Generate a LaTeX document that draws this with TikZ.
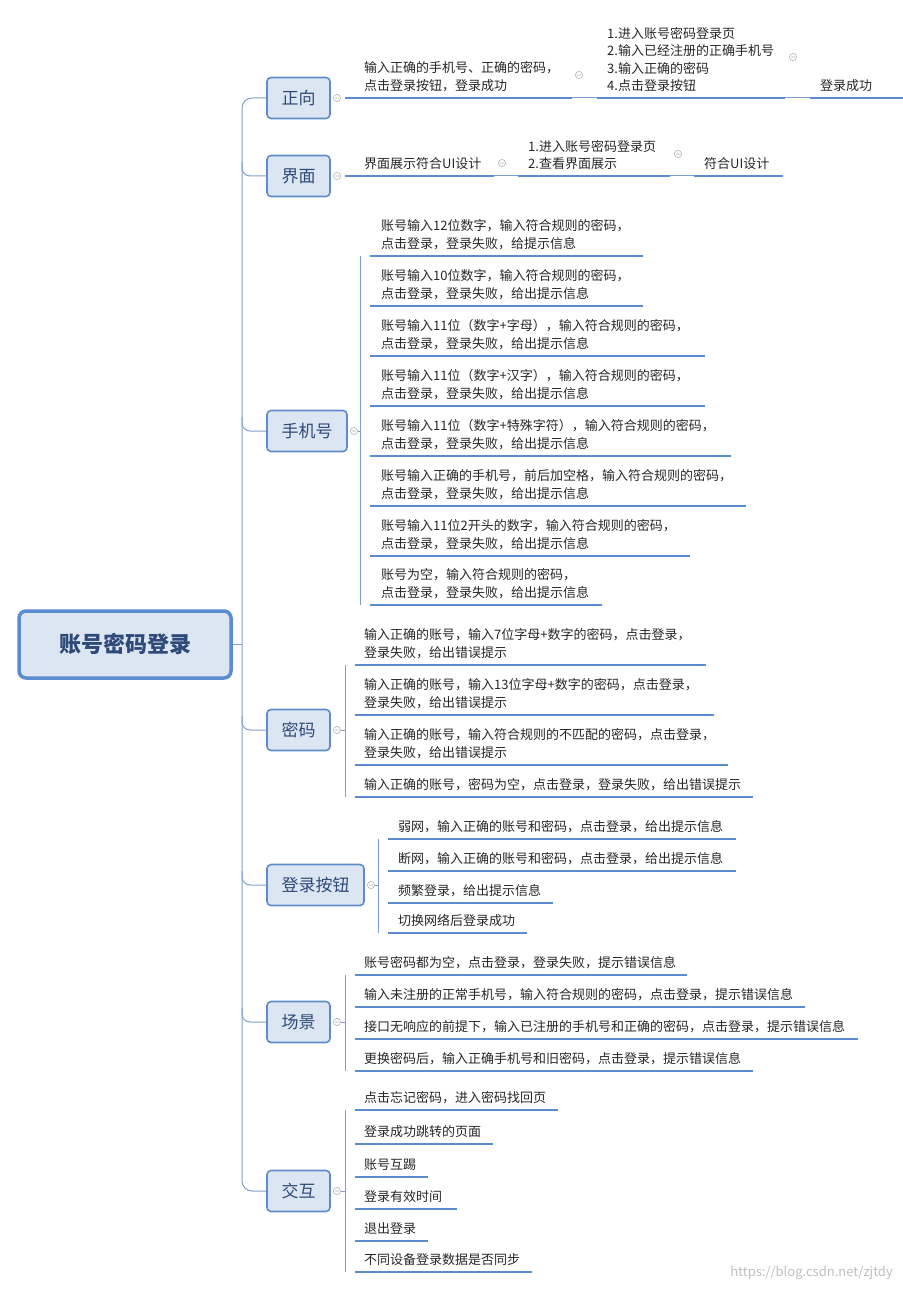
\documentclass[tikz,border=0pt]{standalone}
\usepackage{fontspec}
\setmainfont{Noto Sans CJK SC}
\begin{document}
\begin{tikzpicture}[x=1pt,y=-1pt,
  ul/.style={line width=2.8pt,draw=ulc},
  thin/.style={line width=1pt,draw=lnc},
  br/.style={draw=brc,line width=1.6pt,fill=boxf,rounded corners=4pt,minimum height=41pt,inner xsep=0pt,font=\fontsize{17}{20}\selectfont,text=txt},
  tx/.style={anchor=south west,inner sep=0pt,align=left,font=\fontsize{13}{17.5}\selectfont,text=black!85}]
\definecolor{ulc}{HTML}{5B8BD0}
\definecolor{lnc}{HTML}{7FA0D0}
\definecolor{brc}{HTML}{5E8CC8}
\definecolor{boxf}{HTML}{DCE6F2}
\definecolor{txt}{HTML}{2E4A78}
\useasboundingbox (0,0) rectangle (902,1289);
\newcommand\cc[2]{\draw[gray!60,line width=0.6pt] (#1,#2) circle (3.6) (#1-2,#2)--(#1+2,#2);}
\newcommand\lf[6]{\node[tx] (#1) at (#2,#3-6) {#6}; \draw[ul] (#4,#3)--(#5,#3);}
% root
\node[draw=ulc,line width=3.5pt,fill=boxf,rounded corners=7pt,minimum width=212pt,minimum height=67pt,font=\fontsize{22}{24}\selectfont\bfseries,text=txt] (root) at (125,644.5) {账号密码登录};
% branches
\node[br,minimum width=63pt] (b1) at (298.5,98) {正向};
\node[br,minimum width=63pt] (b2) at (298.5,176) {界面};
\node[br,minimum width=80pt] (b3) at (307,431) {手机号};
\node[br,minimum width=63pt] (b4) at (298.5,730) {密码};
\node[br,minimum width=97pt] (b5) at (315.5,885) {登录按钮};
\node[br,minimum width=63pt] (b6) at (298.5,1022) {场景};
\node[br,minimum width=63pt] (b7) at (298.5,1191) {交互};
% trunk
\draw[thin] (root.east)--(242,644.5);
\draw[thin,rounded corners=10pt] (b1.west)--(242,98)--(242,1191)--(b7.west);
\foreach \y/\b in {176/b2,431/b3,730/b4,885/b5,1022/b6}{\draw[thin,rounded corners=8pt] (242,\y-14)--(242,\y)--(\b.west);}
% circles
\cc{337}{98}\cc{337}{176}\cc{354}{431}\cc{337}{730}\cc{371}{885}\cc{337}{1022}\cc{337}{1191}
% 正向
\lf{z1}{364}{98}{345}{572}{输入正确的手机号、正确的密码，\\点击登录按钮，登录成功}
\cc{579}{75}
\draw[thin] (572,98)--(597,98);
\lf{z2}{607}{98}{597}{785}{1.进入账号密码登录页\\2.输入已经注册的正确手机号\\3.输入正确的密码\\4.点击登录按钮}
\cc{793}{57}
\draw[thin] (785,98)--(810,98);
\lf{z3}{820}{98}{810}{912}{登录成功}
% 界面
\lf{j1}{364}{176}{345}{494}{界面展示符合UI设计}
\cc{502}{163}
\draw[thin] (494,176)--(518,176);
\lf{j2}{528}{176}{518}{670}{1.进入账号密码登录页\\2.查看界面展示}
\cc{678}{154}
\draw[thin] (670,176)--(694,176);
\lf{j3}{704}{176}{694}{783}{符合UI设计}
% 手机号
\draw[thin] (358,431)--(360,431) (360,256)--(360,605);
\lf{s1}{381}{256}{370}{643}{账号输入12位数字，输入符合规则的密码，\\点击登录，登录失败，给提示信息}
\lf{s2}{381}{306}{370}{643}{账号输入10位数字，输入符合规则的密码，\\点击登录，登录失败，给出提示信息}
\lf{s3}{381}{356}{370}{705}{账号输入11位（数字+字母），输入符合规则的密码，\\点击登录，登录失败，给出提示信息}
\lf{s4}{381}{406}{370}{705}{账号输入11位（数字+汉字），输入符合规则的密码，\\点击登录，登录失败，给出提示信息}
\lf{s5}{381}{456}{370}{731}{账号输入11位（数字+特殊字符），输入符合规则的密码，\\点击登录，登录失败，给出提示信息}
\lf{s6}{381}{506}{370}{746}{账号输入正确的手机号，前后加空格，输入符合规则的密码，\\点击登录，登录失败，给出提示信息}
\lf{s7}{381}{556}{370}{690}{账号输入11位2开头的数字，输入符合规则的密码，\\点击登录，登录失败，给出提示信息}
\lf{s8}{381}{605}{370}{602}{账号为空，输入符合规则的密码，\\点击登录，登录失败，给出提示信息}
% 密码
\draw[thin] (341,730)--(345,730) (345,665)--(345,797);
\lf{m1}{364}{665}{355}{706}{输入正确的账号，输入7位字母+数字的密码，点击登录，\\登录失败，给出错误提示}
\lf{m2}{364}{715}{355}{714}{输入正确的账号，输入13位字母+数字的密码，点击登录，\\登录失败，给出错误提示}
\lf{m3}{364}{765}{355}{728}{输入正确的账号，输入符合规则的不匹配的密码，点击登录，\\登录失败，给出错误提示}
\lf{m4}{364}{797}{355}{753}{输入正确的账号，密码为空，点击登录，登录失败，给出错误提示}
% 登录按钮
\draw[thin] (375,885)--(378,885) (378,839)--(378,933);
\lf{d1}{398}{839}{388}{736}{弱网，输入正确的账号和密码，点击登录，给出提示信息}
\lf{d2}{398}{871}{388}{736}{断网，输入正确的账号和密码，点击登录，给出提示信息}
\lf{d3}{398}{903}{388}{553}{频繁登录，给出提示信息}
\lf{d4}{398}{933}{388}{527}{切换网络后登录成功}
% 场景
\draw[thin] (341,1022)--(345,1022) (345,975)--(345,1071);
\lf{c1}{364}{975}{355}{687}{账号密码都为空，点击登录，登录失败，提示错误信息}
\lf{c2}{364}{1007}{355}{805}{输入未注册的正常手机号，输入符合规则的密码，点击登录，提示错误信息}
\lf{c3}{364}{1039}{355}{858}{接口无响应的前提下，输入已注册的手机号和正确的密码，点击登录，提示错误信息}
\lf{c4}{364}{1071}{355}{753}{更换密码后，输入正确手机号和旧密码，点击登录，提示错误信息}
% 交互
\draw[thin] (341,1191)--(345,1191) (345,1110)--(345,1272);
\lf{h1}{364}{1110}{355}{558}{点击忘记密码，进入密码找回页}
\lf{h2}{364}{1144}{355}{493}{登录成功跳转的页面}
\lf{h3}{364}{1177}{355}{428}{账号互踢}
\lf{h4}{364}{1209}{355}{457}{登录有效时间}
\lf{h5}{364}{1241}{355}{428}{退出登录}
\lf{h6}{364}{1272}{355}{532}{不同设备登录数据是否同步}
\node[anchor=base east,inner sep=0,font=\fontsize{13}{15}\selectfont,text=black!25] (wm) at (893,1276) {https://blog.csdn.net/zjtdy};
\end{tikzpicture}
\end{document}
